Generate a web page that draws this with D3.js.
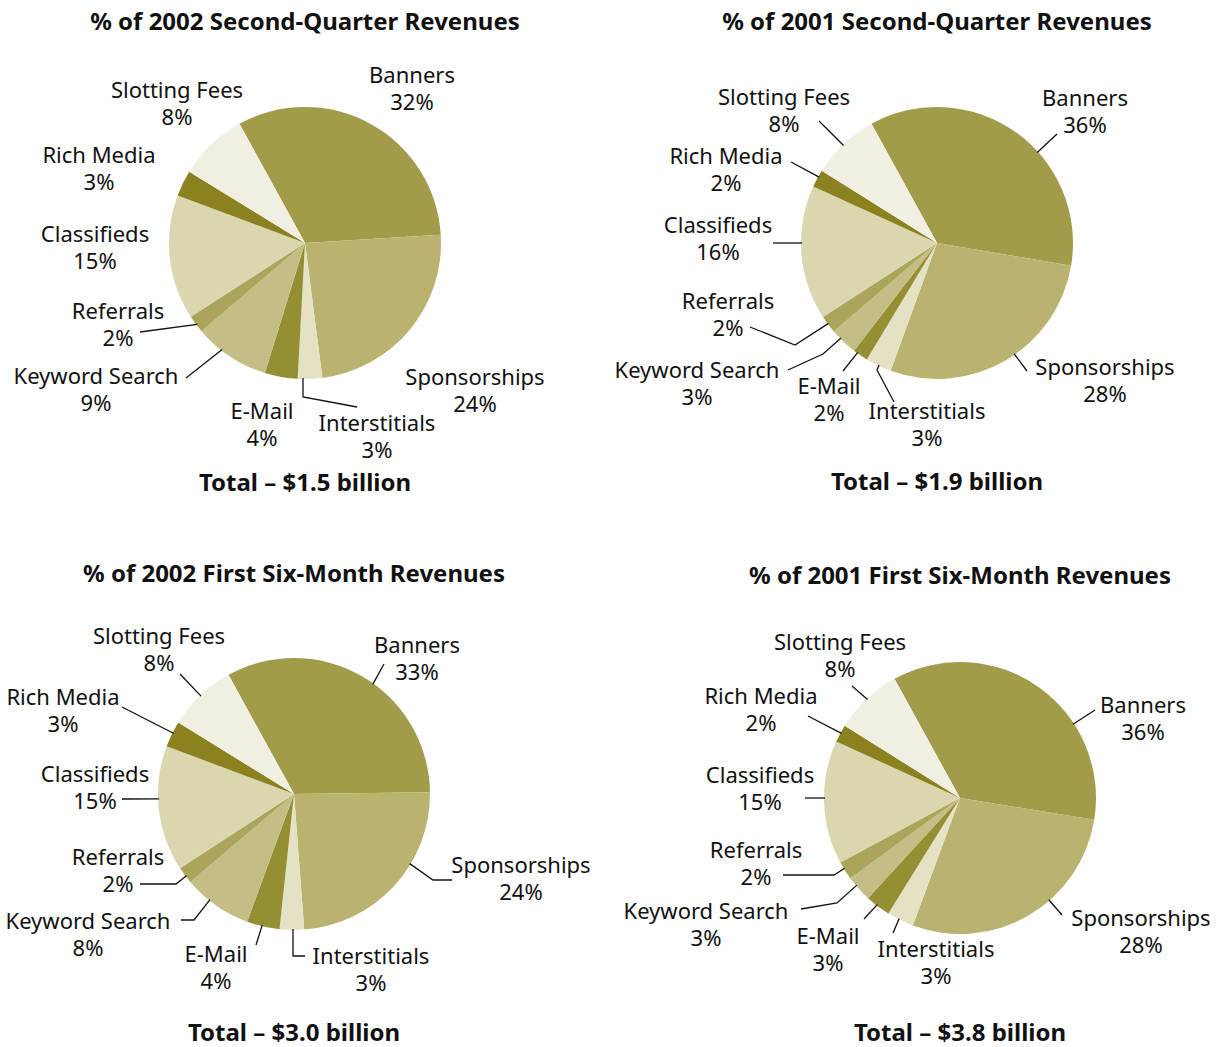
<!DOCTYPE html>
<html>
<head>
<meta charset="utf-8">
<script src="https://cdn.jsdelivr.net/npm/d3@7"></script>
<style>
  body { margin: 0; background: #fff; }
  text { font-family: "Noto Sans", "Open Sans", sans-serif; fill: #111; }
  .lbl { font-size: 22px; }
  .ttl { font-size: 24px; font-weight: bold; }
</style>
</head>
<body>
<div id="chart"></div>
<script>
// slice categories, in clockwise order from the top
var categories = ["Banners", "Sponsorships", "Interstitials", "E-Mail", "Keyword Search",
                  "Referrals", "Classifieds", "Rich Media", "Slotting Fees"];
var colours = ["#a19b4a", "#bab36f", "#e5e1c4", "#958f33", "#c4bd86",
               "#aba55c", "#dad6b0", "#8b821f", "#f1efe2"];

var titles = ["% of 2002 Second-Quarter Revenues", "% of 2001 Second-Quarter Revenues",
              "% of 2002 First Six-Month Revenues", "% of 2001 First Six-Month Revenues"];
var totals = ["Total \u2013 $1.5 billion", "Total \u2013 $1.9 billion",
              "Total \u2013 $3.0 billion", "Total \u2013 $3.8 billion"];

// printed percentages
var pct2002Q2 = [32, 24, 3, 4, 9, 2, 15, 3, 8];
var pct2001Q2 = [36, 28, 3, 2, 3, 2, 16, 2, 8];
var pct2002H1 = [33, 24, 3, 4, 8, 2, 15, 3, 8];
var pct2001H1 = [36, 28, 3, 3, 3, 2, 15, 2, 8];

var share2002Q2 = [32.0, 23.9, 2.9, 3.9, 9.0, 2.1, 14.8, 3.1, 8.2];
var share2001Q2 = [35.7, 27.9, 3.1, 1.8, 3.3, 2.1, 16.0, 2.1, 8.1];
var share2002H1 = [32.8, 24.0, 2.9, 3.9, 8.2, 2.0, 14.9, 3.1, 8.2];
var share2001H1 = [35.6, 28.1, 3.2, 3.0, 3.1, 2.2, 14.7, 2.1, 8.1];

var width = 1224, height = 1047, radius = 136;
var startDeg = -28.8;

// layout: label centre + leader points (relative to pie centre), last point snaps to the rim
var panels = [
  { cx: 305, cy: 243, titleY: 22, totalY: 483, pct: pct2002Q2, share: share2002Q2, labels: [
    { t: [107, -168], l: [[81, -131]] },
    { t: [170, 134], l: [[97, 119]] },
    { t: [72, 180], l: [[52, 164], [-2, 154], [-2, 135]] },
    { t: [-43, 168], l: [[-33, 159]] },
    { t: [-209, 133], l: [[-119, 135], [-105, 135]] },
    { t: [-187, 68], l: [[-165, 89], [-118, 89]] },
    { t: [-210, -9], l: [[-177, 15]] },
    { t: [-206, -88], l: [[-145, -72]] },
    { t: [-128, -153], l: [[-104, -112]] }
  ]},
  { cx: 937, cy: 243, titleY: 22, totalY: 482, pct: pct2001Q2, share: share2001Q2, labels: [
    { t: [148, -145], l: [[120, -109], [102, -92]] },
    { t: [168, 124], l: [[90, 128], [78, 112]] },
    { t: [-10, 168], l: [[-43, 159], [-60, 127], [-58, 122]] },
    { t: [-108, 143], l: [[-94, 128], [-79, 109]] },
    { t: [-240, 127], l: [[-149, 127], [-114, 111], [-95, 94]] },
    { t: [-209, 58], l: [[-187, 84], [-142, 102], [-108, 80]] },
    { t: [-219, -18], l: [[-164, 0], [-135, 0]] },
    { t: [-211, -87], l: [[-146, -81], [-118, -66]] },
    { t: [-153, -146], l: [[-118, -122], [-94, -98]] }
  ]},
  { cx: 294, cy: 794, titleY: 574, totalY: 1033, pct: pct2002H1, share: share2002H1, labels: [
    { t: [123, -149], l: [[90, -130], [79, -110]] },
    { t: [227, 71], l: [[158, 86], [139, 86], [118, 71]] },
    { t: [77, 162], l: [[11, 162], [-1, 162], [-1, 135]] },
    { t: [-78, 160], l: [[-38, 151], [-32, 132]] },
    { t: [-206, 127], l: [[-113, 126], [-100, 126], [-85, 107]] },
    { t: [-176, 63], l: [[-154, 90], [-118, 90], [-108, 82]] },
    { t: [-199, -20], l: [[-172, 5], [-136, 5]] },
    { t: [-231, -97], l: [[-172, -87], [-121, -61]] },
    { t: [-135, -158], l: [[-114, -120], [-93, -98]] }
  ]},
  { cx: 960, cy: 798, titleY: 576, totalY: 1033, pct: pct2001H1, share: share2001H1, labels: [
    { t: [183, -93], l: [[135, -88], [115, -75]] },
    { t: [181, 120], l: [[102, 117], [89, 102]] },
    { t: [-24, 151], l: [[-67, 135], [-61, 121]] },
    { t: [-132, 138], l: [[-96, 121], [-83, 107]] },
    { t: [-254, 113], l: [[-159, 111], [-123, 105], [-103, 87]] },
    { t: [-204, 52], l: [[-177, 77], [-126, 77], [-115, 70]] },
    { t: [-200, -23], l: [[-155, 0], [-134, 0]] },
    { t: [-199, -102], l: [[-152, -82], [-121, -66]] },
    { t: [-120, -156], l: [[-108, -112], [-93, -99]] }
  ]}
];

var svg = d3.select("#chart").append("svg")
    .attr("width", width)
    .attr("height", height);

var colour = d3.scaleOrdinal().domain(categories).range(colours);

var start = startDeg * Math.PI / 180;
var pie = d3.pie()
    .sort(null)
    .value(function(d) { return d.v; })
    .startAngle(start)
    .endAngle(start + 2 * Math.PI);

var arc = d3.arc().innerRadius(0).outerRadius(radius);
var line = d3.line();

panels.forEach(function(p, k) {
  var rows = categories.map(function(c, i) { return { name: c, v: p.share[i], pct: p.pct[i], lay: p.labels[i] }; });

  svg.append("text").attr("class", "ttl")
      .attr("x", p.cx).attr("y", p.titleY + 8)
      .attr("text-anchor", "middle")
      .text(titles[k]);

  svg.append("text").attr("class", "ttl")
      .attr("x", p.cx).attr("y", p.totalY + 8)
      .attr("text-anchor", "middle")
      .text(totals[k]);

  var g = svg.append("g").attr("transform", "translate(" + p.cx + "," + p.cy + ")");

  g.selectAll("path.slice")
    .data(pie(rows))
    .enter().append("path")
      .attr("class", "slice")
      .attr("d", arc)
      .attr("fill", function(d) { return colour(d.data.name); });

  // leaders: last point pushed onto the rim
  g.selectAll("path.leader")
    .data(rows)
    .enter().append("path")
      .attr("class", "leader")
      .attr("fill", "none")
      .attr("stroke", "#111")
      .attr("stroke-width", 1.3)
      .attr("d", function(d) {
        var pts = d.lay.l.slice();
        var last = pts[pts.length - 1];
        var a = Math.atan2(last[0], -last[1]);
        pts[pts.length - 1] = d3.pointRadial(a, radius - 1);
        return line(pts);
      });

  var lbl = g.selectAll("text.lbl")
    .data(rows)
    .enter().append("text")
      .attr("class", "lbl")
      .attr("text-anchor", "middle");
  lbl.append("tspan")
      .attr("x", function(d) { return d.lay.t[0]; })
      .attr("y", function(d) { return d.lay.t[1] + 8; })
      .text(function(d) { return d.name; });
  lbl.append("tspan")
      .attr("x", function(d) { return d.lay.t[0]; })
      .attr("y", function(d) { return d.lay.t[1] + 35; })
      .text(function(d) { return d.pct + "%"; });
});
</script>
</body>
</html>
